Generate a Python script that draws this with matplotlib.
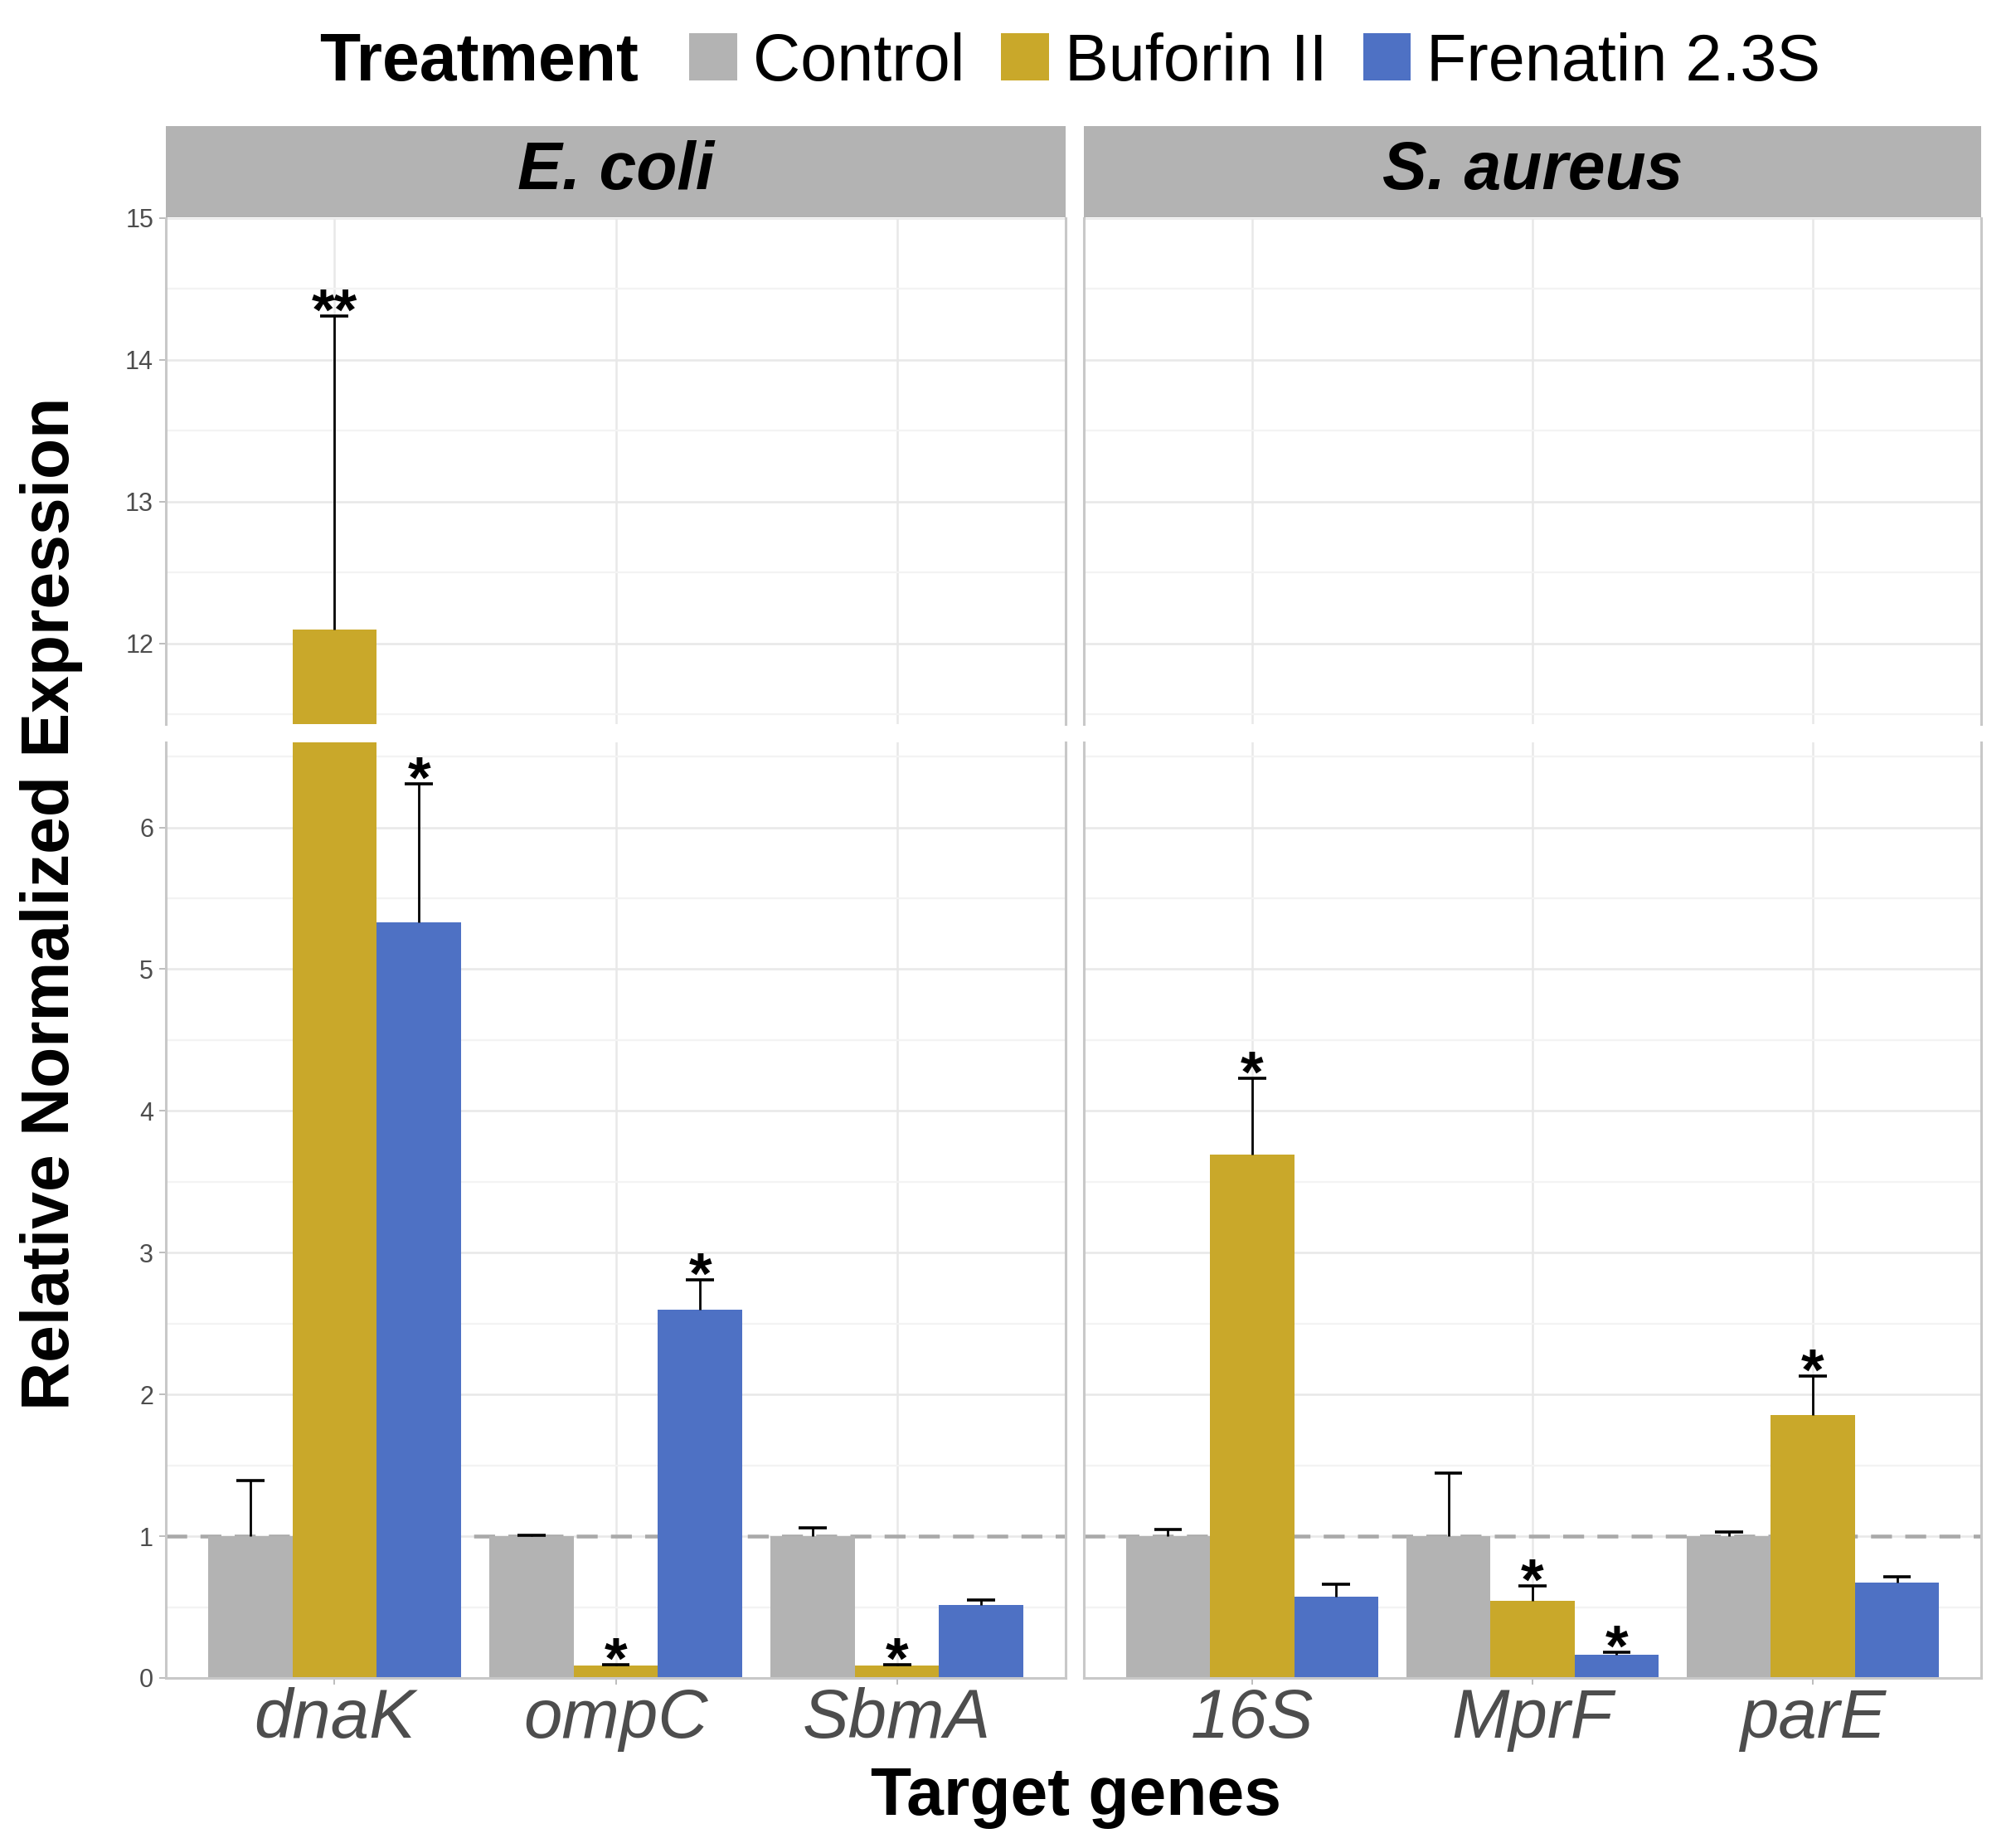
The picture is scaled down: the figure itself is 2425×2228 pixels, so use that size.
import numpy as np
import matplotlib
matplotlib.use("Agg")
import matplotlib.pyplot as plt
from matplotlib.patches import Patch
from matplotlib.ticker import MultipleLocator

plt.rcParams['font.family'] = ['Liberation Sans', 'DejaVu Sans']

# ---- data ----
treatments = ['Control', 'Buforin II', 'Frenatin 2.3S']
colors = ['#B3B3B3', '#C9A82A', '#4E71C4']

ecoli_genes = ['dnaK', 'ompC', 'SbmA']
ecoli_control = [1.0, 1.0, 1.0]
ecoli_control_err = [0.39, 0.005, 0.057]
ecoli_buforin = [12.1, 0.088, 0.088]
ecoli_buforin_err = [2.21, 0.006, 0.006]
ecoli_frenatin = [5.33, 2.60, 0.515]
ecoli_frenatin_err = [0.98, 0.21, 0.035]
ecoli_sig_control = ['', '', '']
ecoli_sig_buforin = ['**', '*', '*']
ecoli_sig_frenatin = ['*', '*', '']

saureus_genes = ['16S', 'MprF', 'parE']
saureus_control = [1.0, 1.0, 1.0]
saureus_control_err = [0.05, 0.443, 0.027]
saureus_buforin = [3.69, 0.544, 1.852]
saureus_buforin_err = [0.54, 0.105, 0.279]
saureus_frenatin = [0.575, 0.166, 0.673]
saureus_frenatin_err = [0.088, 0.015, 0.042]
saureus_sig_control = ['', '', '']
saureus_sig_buforin = ['*', '*', '*']
saureus_sig_frenatin = ['', '*', '']

panels = [
    ('E. coli', ecoli_genes,
     [ecoli_control, ecoli_buforin, ecoli_frenatin],
     [ecoli_control_err, ecoli_buforin_err, ecoli_frenatin_err],
     [ecoli_sig_control, ecoli_sig_buforin, ecoli_sig_frenatin]),
    ('S. aureus', saureus_genes,
     [saureus_control, saureus_buforin, saureus_frenatin],
     [saureus_control_err, saureus_buforin_err, saureus_frenatin_err],
     [saureus_sig_control, saureus_sig_buforin, saureus_sig_frenatin]),
]

# ---- layout (pixels of a 2425x2228 canvas) ----
W, H = 2425, 2228
fig = plt.figure(figsize=(W / 100, H / 100), dpi=100)


def box(x0, x1, ytop, ybot):
    return [x0 / W, 1 - ybot / H, (x1 - x0) / W, (ybot - ytop) / H]


cols = [(200, 1285), (1307, 2389)]
top_rows = (263, 873)
bot_rows = (895, 2023)
top_lim = (11.43, 15)
bot_lim = (0, 6.6)

grid_major = '#E8E8E8'
grid_minor = '#F3F3F3'
border = '#C8C8C8'
txt_gray = '#4D4D4D'

width = 0.3
offsets = [-0.3, 0.0, 0.3]

for p, (title, genes, vals, errs, sigs) in enumerate(panels):
    x0, x1 = cols[p]
    ax_top = fig.add_axes(box(x0, x1, *top_rows))
    ax_bot = fig.add_axes(box(x0, x1, *bot_rows))
    xpos = np.arange(1, len(genes) + 1)

    for ax, lim in ((ax_top, top_lim), (ax_bot, bot_lim)):
        ax.set_xlim(0.4, len(genes) + 0.6)
        ax.set_ylim(*lim)
        ax.set_axisbelow(True)
        ax.yaxis.set_major_locator(MultipleLocator(1))
        ax.yaxis.set_minor_locator(MultipleLocator(0.5))
        ax.set_xticks(xpos)
        ax.grid(True, which='major', color=grid_major, linewidth=1.8)
        ax.grid(True, which='minor', axis='y', color=grid_minor, linewidth=1.6)
        for s in ax.spines.values():
            s.set_color(border)
            s.set_linewidth(2.2)
        ax.spines['top'].set_visible(False)
        ax.tick_params(which='minor', length=0)
        ax.tick_params(which='major', length=5.8, width=1.4, color='#BDBDBD',
                       labelsize=22, labelcolor=txt_gray, pad=5)

        for i, (v, e, s) in enumerate(zip(vals, errs, sigs)):
            bx = xpos + offsets[i]
            ax.bar(bx, v, width=width, color=colors[i], zorder=2)
            tops = np.array(v) + np.array(e)
            ax.vlines(bx, v, tops, color='black', linewidth=2.0, zorder=3)
            ax.hlines(tops, bx - 0.05, bx + 0.05, color='black', linewidth=2.6, zorder=3)
            for xx, tt, lab in zip(bx, tops, s):
                if lab:
                    ax.annotate(lab, xy=(xx, tt), xytext=(0, -12), textcoords='offset points',
                                ha='center', va='baseline', fontsize=51, fontweight='bold',
                                annotation_clip=True, zorder=4)

    ax_bot.axhline(1, color='#A9A9A9', linewidth=3.3, dashes=(5.5, 3.5), zorder=1.5)

    ax_top.spines['bottom'].set_visible(False)
    ax_top.tick_params(axis='x', length=0, labelbottom=False)
    ax_bot.set_xticklabels(genes, fontsize=60, style='italic')
    ax_bot.tick_params(axis='x', pad=2)
    if p > 0:
        ax_top.tick_params(axis='y', length=0, labelleft=False)
        ax_bot.tick_params(axis='y', length=0, labelleft=False)

    # facet strip
    strip = fig.add_axes(box(x0, x1, 152, 262))
    strip.set_facecolor('#B3B3B3')
    strip.set_xticks([])
    strip.set_yticks([])
    for s in strip.spines.values():
        s.set_visible(False)
    strip.text(0.5, 0.5, title, transform=strip.transAxes, ha='center', va='center',
               fontsize=58, fontweight='bold', style='italic')

# axis titles
fig.text(62 / W, 1 - 1089 / H, 'Relative Normalized Expression', rotation=90,
         ha='center', va='center', fontsize=58, fontweight='bold')
fig.text(1298 / W, 1 - 2188 / H, 'Target genes', ha='center', va='baseline',
         fontsize=58, fontweight='bold')

# legend
fig.text(385 / W, 1 - 76 / H, 'Treatment', ha='left', va='center',
         fontsize=58, fontweight='bold')
handles = [Patch(facecolor=c, edgecolor='none', label=t) for c, t in zip(colors, treatments)]
fig.legend(handles=handles, loc='center left', bbox_to_anchor=(831 / W, 1 - 76 / H),
           ncol=3, frameon=False, fontsize=57, handlelength=0.73, handleheight=0.73,
           handletextpad=0.24, columnspacing=0.55, borderpad=0, borderaxespad=0)

fig.savefig('out.png', dpi=100)
